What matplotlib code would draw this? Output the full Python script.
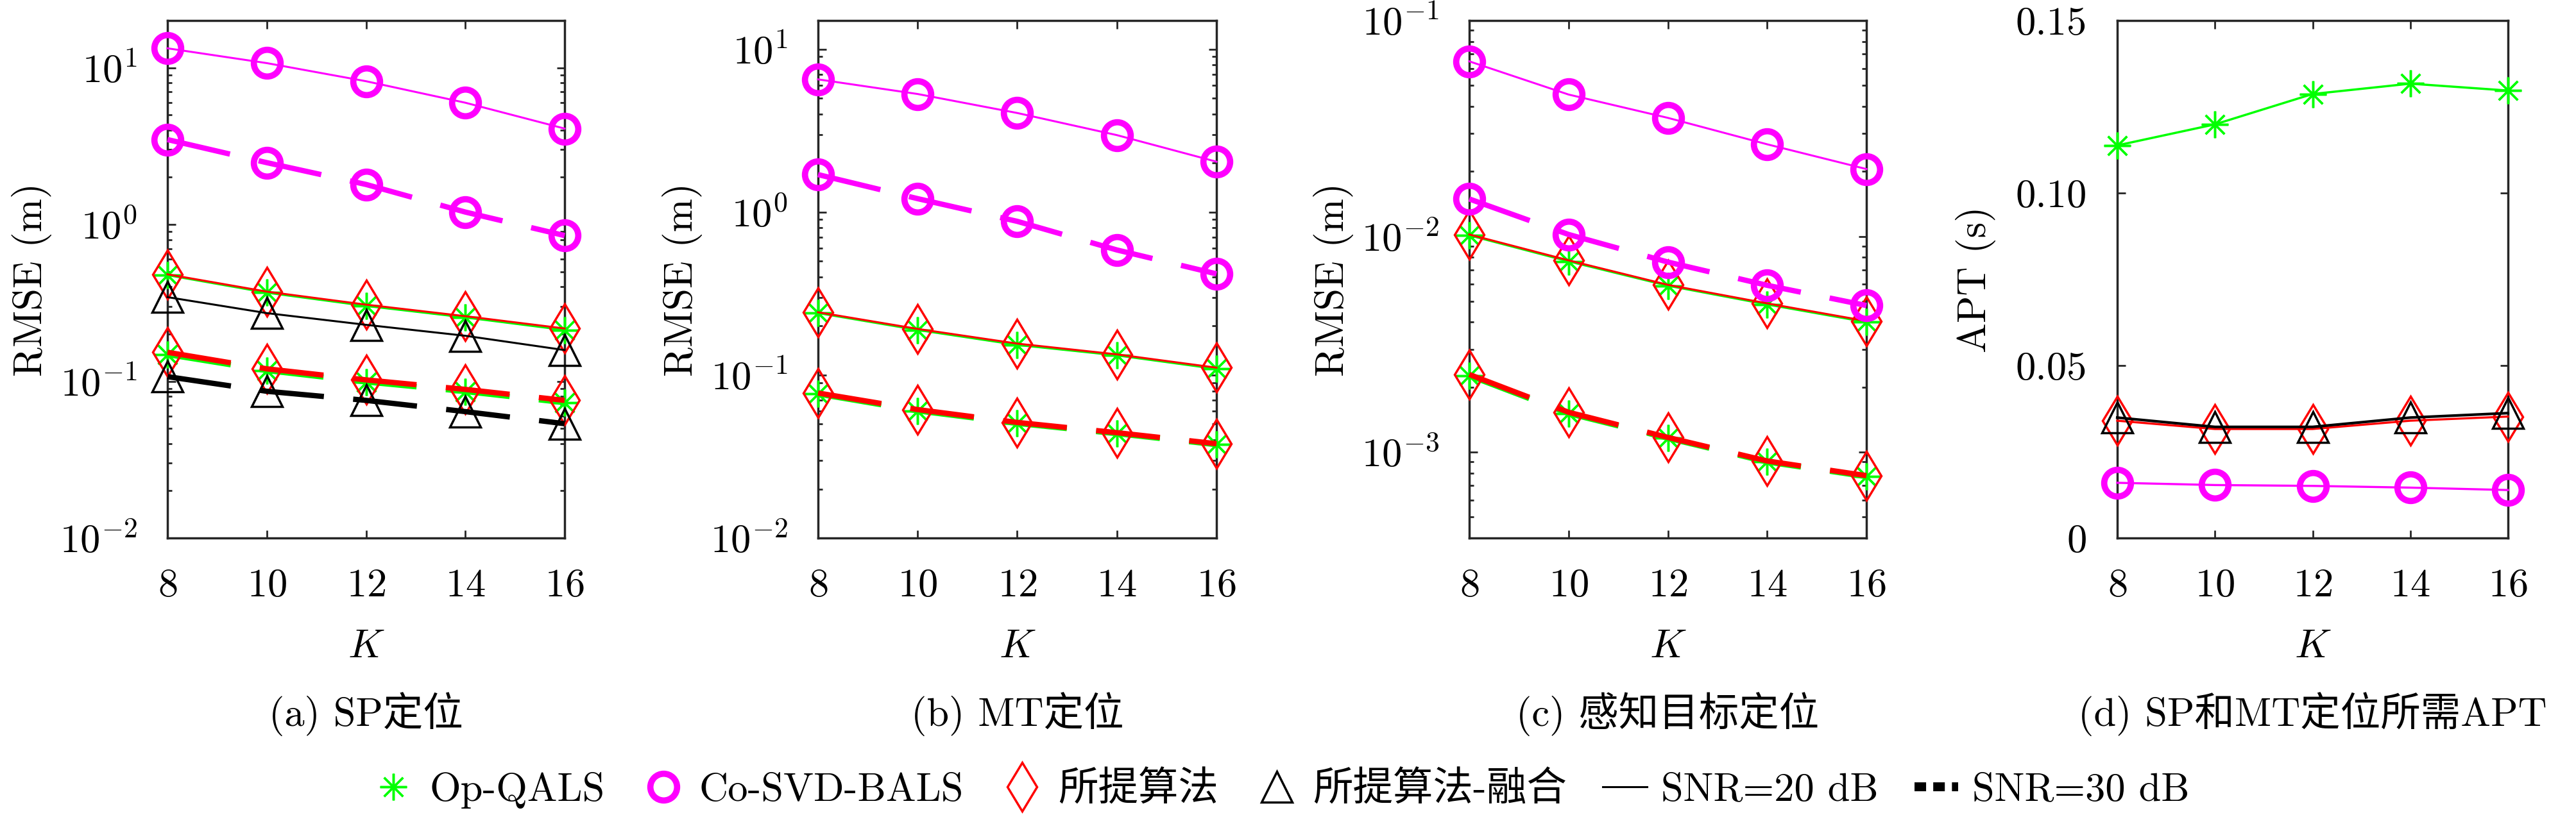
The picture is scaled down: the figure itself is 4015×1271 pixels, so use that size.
import numpy as np
import matplotlib.pyplot as plt
from matplotlib.lines import Line2D
from matplotlib.ticker import NullFormatter, LogLocator

plt.rcParams['font.family'] = ['cmr10', 'Noto Sans CJK SC']
plt.rcParams['mathtext.fontset'] = 'cm'
plt.rcParams['axes.formatter.use_mathtext'] = True
plt.rcParams['font.size'] = 45

K = [8, 10, 12, 14, 16]

# (a) SP positioning, RMSE (m)
a_op_20 = [0.475, 0.367, 0.302, 0.255, 0.212]
a_co_20 = [13.3, 10.7, 8.2, 5.98, 4.09]
a_pr_20 = [0.481, 0.373, 0.308, 0.260, 0.217]
a_fu_20 = [0.344, 0.272, 0.229, 0.195, 0.158]
a_op_30 = [0.148, 0.117, 0.099, 0.086, 0.073]
a_co_30 = [3.48, 2.48, 1.80, 1.20, 0.85]
a_pr_30 = [0.153, 0.120, 0.102, 0.0887, 0.0755]
a_fu_30 = [0.107, 0.0863, 0.0755, 0.064, 0.0536]

# (b) MT positioning
b_op_20 = [0.240, 0.189, 0.153, 0.132, 0.109]
b_co_20 = [6.53, 5.31, 4.06, 2.97, 2.04]
b_pr_20 = [0.243, 0.192, 0.156, 0.134, 0.111]
b_op_30 = [0.0765, 0.0603, 0.0505, 0.0437, 0.0374]
b_co_30 = [1.70, 1.21, 0.878, 0.586, 0.418]
b_pr_30 = [0.0776, 0.0614, 0.0512, 0.0443, 0.0379]

# (c) sensing target positioning
c_op_20 = [0.0101, 0.00765, 0.0059, 0.00483, 0.004]
c_co_20 = [0.0647, 0.0454, 0.0354, 0.0267, 0.0205]
c_pr_20 = [0.0102, 0.00774, 0.00596, 0.00489, 0.00405]
c_op_30 = [0.00226, 0.00151, 0.00116, 0.0009, 0.00077]
c_co_30 = [0.0149, 0.0102, 0.0076, 0.00593, 0.00478]
c_pr_30 = [0.00229, 0.00153, 0.00117, 0.00091, 0.000778]

# (d) APT (s)
d_op = [0.1138, 0.1199, 0.1287, 0.1317, 0.1297]
d_co = [0.0160, 0.01535, 0.0151, 0.0146, 0.0139]
d_pr = [0.0340, 0.0316, 0.0316, 0.0340, 0.0352]
d_fu = [0.0349, 0.0322, 0.0322, 0.0349, 0.0362]

GREEN = '#00ff00'
MAG = '#ff00ff'
RED = '#ff0000'
BLK = '#000000'

sty = {
    'op': dict(color=GREEN, marker=(8, 2, 0), ms=30, mew=2.5),
    'co': dict(color=MAG, marker='o', ms=30, mew=7, mfc='none'),
    'pr': dict(color=RED, marker='d', ms=39, mew=2.5, mfc='none'),
    'fu': dict(color=BLK, marker='^', ms=35, mew=2.5, mfc='none'),
}
solid = dict(ls='-', lw=2.2, clip_on=False)
dash = dict(ls=(0, (12, 5.5)), lw=6, clip_on=False)

fig = plt.figure(figsize=(40.16, 12.71), dpi=100)
lefts = [261, 1275, 2290, 3300]
widths = [619, 621, 619, 609]
axs = [fig.add_axes([l / 4016, 432 / 1271, w / 4016, 807 / 1271]) for l, w in zip(lefts, widths)]

ax = axs[0]
ax.plot(K, a_op_20, **sty['op'], **solid)
ax.plot(K, a_co_20, **sty['co'], **solid)
ax.plot(K, a_pr_20, **sty['pr'], **solid)
ax.plot(K, a_fu_20, **sty['fu'], **solid)
ax.plot(K, a_op_30, **sty['op'], **dash)
ax.plot(K, a_co_30, **sty['co'], **dash)
ax.plot(K, a_pr_30, **sty['pr'], **dash)
ax.plot(K, a_fu_30, **sty['fu'], **dash)
ax.set_ylim(1e-2, 20)

ax = axs[1]
ax.plot(K, b_op_20, **sty['op'], **solid)
ax.plot(K, b_co_20, **sty['co'], **solid)
ax.plot(K, b_pr_20, **sty['pr'], **solid)
ax.plot(K, b_op_30, **sty['op'], **dash)
ax.plot(K, b_co_30, **sty['co'], **dash)
ax.plot(K, b_pr_30, **sty['pr'], **dash)
ax.set_ylim(1e-2, 15)

ax = axs[2]
ax.plot(K, c_op_20, **sty['op'], **solid)
ax.plot(K, c_co_20, **sty['co'], **solid)
ax.plot(K, c_pr_20, **sty['pr'], **solid)
ax.plot(K, c_op_30, **sty['op'], **dash)
ax.plot(K, c_co_30, **sty['co'], **dash)
ax.plot(K, c_pr_30, **sty['pr'], **dash)
ax.set_ylim(4e-4, 1e-1)

ax = axs[3]
ax.plot(K, d_op, **sty['op'], ls='-', lw=2.5, clip_on=False)
ax.plot(K, d_co, **sty['co'], ls='-', lw=2.4, clip_on=False)
ax.plot(K, d_pr, **sty['pr'], ls='-', lw=2.4, clip_on=False)
ax.plot(K, d_fu, **sty['fu'], ls='-', lw=3, clip_on=False)
ax.set_ylim(0, 0.15)
ax.set_yticks([0, 0.05, 0.10, 0.15])
ax.set_yticklabels(['0', '0.05', '0.10', '0.15'])

log_ticks = [
    ([1e-2, 1e-1, 1e0, 1e1], [r'$10^{-2}$', r'$10^{-1}$', r'$10^{0}$', r'$10^{1}$']),
    ([1e-2, 1e-1, 1e0, 1e1], [r'$10^{-2}$', r'$10^{-1}$', r'$10^{0}$', r'$10^{1}$']),
    ([1e-3, 1e-2, 1e-1], [r'$10^{-3}$', r'$10^{-2}$', r'$10^{-1}$']),
]
for ax, (tv, tl) in zip(axs[:3], log_ticks):
    ax.set_yscale('log')
    ax.set_yticks(tv)
    ax.set_yticklabels(tl)
    ax.yaxis.set_minor_locator(LogLocator(base=10, subs=np.arange(2, 10)))
    ax.yaxis.set_minor_formatter(NullFormatter())
    ax.set_ylabel('RMSE (m)')
    ax.yaxis.set_label_coords(-0.29, 0.5)
axs[3].set_ylabel('APT (s)')
axs[3].yaxis.set_label_coords(-0.31, 0.5)

captions = ['(a) SP定位', '(b) MT定位', '(c) 感知目标定位', '(d) SP和MT定位所需APT']
for ax, cap in zip(axs, captions):
    ax.set_xlim(8, 16)
    ax.set_xticks(K)
    ax.set_xlabel('$K$')
    ax.xaxis.set_label_coords(0.5, -0.177)
    ax.text(0.5, -0.34, cap, transform=ax.transAxes, ha='center', va='center')
    ax.tick_params(which='both', direction='in', top=True, right=True, width=2, color='#262626')
    ax.tick_params(which='major', length=9, pad=34)
    ax.tick_params(which='minor', length=5)
    for s in ax.spines.values():
        s.set_linewidth(2.5)
        s.set_color('#262626')
        s.set_zorder(0.5)

handles = [
    Line2D([], [], ls='none', **sty['op']),
    Line2D([], [], ls='none', **sty['co']),
    Line2D([], [], ls='none', **sty['pr']),
    Line2D([], [], ls='none', **sty['fu']),
    Line2D([], [], color=BLK, ls='-', lw=2.2),
    Line2D([], [], color=BLK, ls=(0, (1.3, 0.8)), lw=10),
]
labels = ['Op-QALS', 'Co-SVD-BALS', '所提算法', '所提算法-融合', 'SNR=20 dB', 'SNR=30 dB']
fig.legend(handles, labels, loc='center', bbox_to_anchor=(0.497, 0.031), ncol=6, frameon=False,
           handlelength=1.1, handletextpad=0.35, columnspacing=0.9)

fig.savefig('out.png', dpi=100)
